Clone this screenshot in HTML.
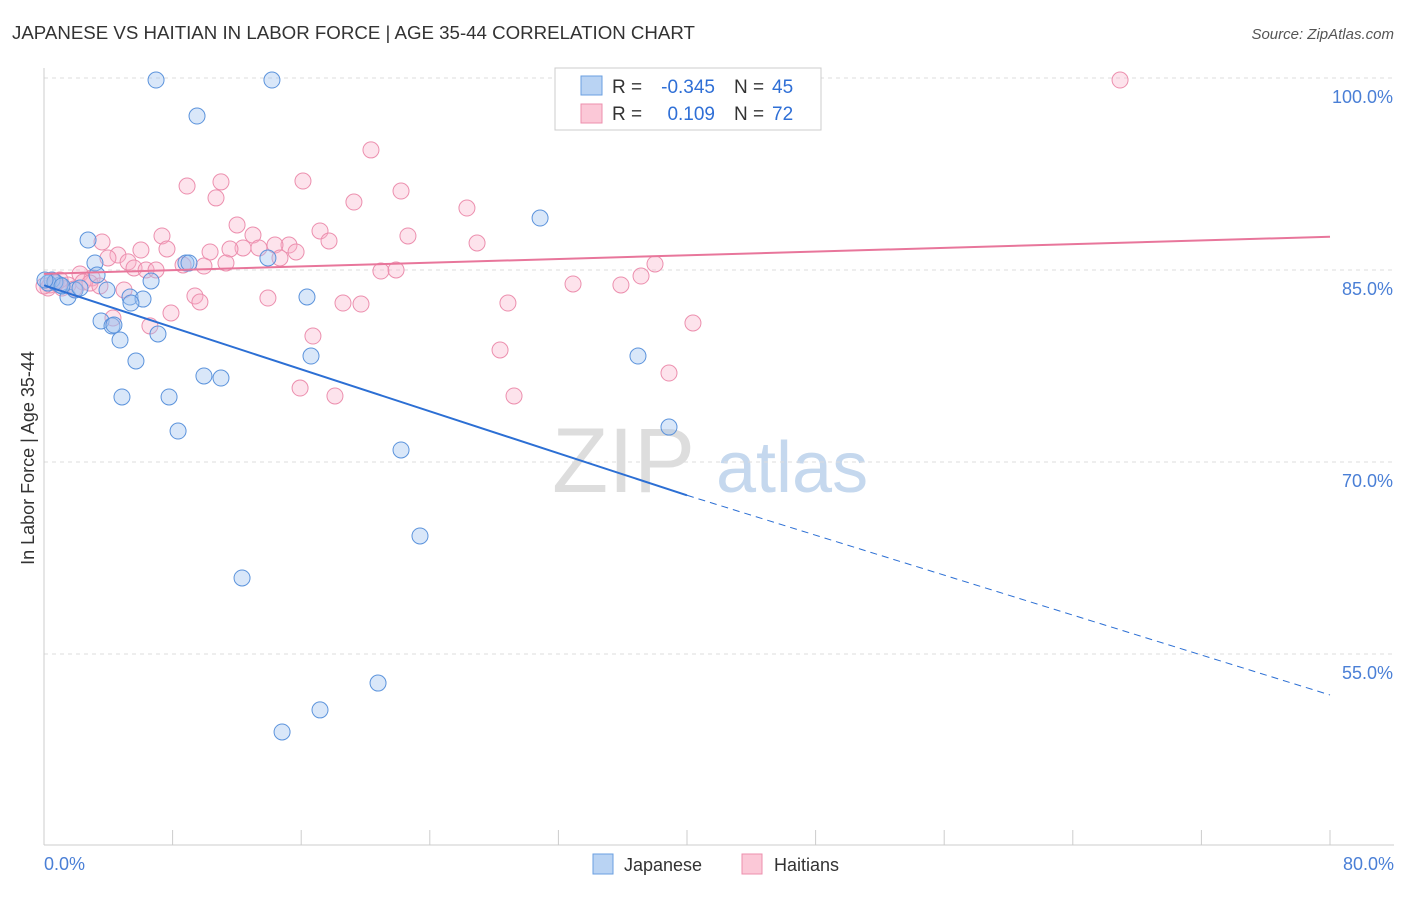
<!DOCTYPE html>
<html><head><meta charset="utf-8"><style>
body{margin:0;background:#fff;font-family:"Liberation Sans",sans-serif}
svg text{font-family:"Liberation Sans",sans-serif}
</style></head><body>
<svg id="chart" width="1406" height="892">
<text x="12" y="39" font-size="18.7" fill="#333">JAPANESE VS HAITIAN IN LABOR FORCE | AGE 35-44 CORRELATION CHART</text>
<text x="1394" y="39" font-size="15" fill="#555" font-style="italic" text-anchor="end">Source: ZipAtlas.com</text>
<text x="34" y="458" font-size="18" fill="#333" transform="rotate(-90 34 458)" text-anchor="middle">In Labor Force | Age 35-44</text>
<g><text x="552" y="492" font-size="92" fill="#ddd" font-family="Liberation Serif">ZIP</text><text x="716" y="492" font-size="72" fill="#c5d8ee">atlas</text></g>
<g id="grid"></g><g id="marks"></g>
<g>
<rect x="555" y="68" width="266" height="62" fill="#fff" stroke="#ccc"/>
<rect x="581" y="76" width="21" height="19" fill="#b9d3f3" stroke="#6a9fe0"/>
<rect x="581" y="104" width="21" height="19" fill="#fbc8d7" stroke="#ec8fae"/>
<text x="612" y="93" font-size="19" fill="#333">R =</text>
<text x="715" y="93" font-size="19" fill="#2f6fd6" text-anchor="end">-0.345</text>
<text x="734" y="93" font-size="19" fill="#333">N =</text>
<text x="772" y="93" font-size="19" fill="#2f6fd6">45</text>
<text x="612" y="120" font-size="19" fill="#333">R =</text>
<text x="715" y="120" font-size="19" fill="#2f6fd6" text-anchor="end">0.109</text>
<text x="734" y="120" font-size="19" fill="#333">N =</text>
<text x="772" y="120" font-size="19" fill="#2f6fd6">72</text>
</g>
<g>
<rect x="593" y="854" width="20" height="20" fill="#b9d3f3" stroke="#6a9fe0"/>
<text x="624" y="871" font-size="18" fill="#333">Japanese</text>
<rect x="742" y="854" width="20" height="20" fill="#fbc8d7" stroke="#ec8fae"/>
<text x="774" y="871" font-size="18" fill="#333">Haitians</text>
</g>
</svg>
<script>
const yTicks=[100,85,70,55];
const xTickCount=11;
const bluePx=[[156,80],[272,80],[197,116],[540,218],[88,240],[95,263],[97,275],[151,281],[186,263],[189,263],[107,290],[130,297],[143,299],[131,303],[68,297],[60,285],[75,290],[52,280],[48,283],[101,321],[112,326],[114,325],[120,340],[158,334],[136,361],[307,297],[268,258],[311,356],[204,376],[221,378],[122,397],[169,397],[178,431],[401,450],[420,536],[242,578],[378,683],[320,710],[282,732],[638,356],[669,427],[55,282],[62,286],[80,288],[45,280]];
const pinkPx=[[1120,80],[371,150],[303,181],[401,191],[187,186],[221,182],[216,198],[354,202],[467,208],[237,225],[320,231],[408,236],[253,235],[477,243],[102,242],[162,236],[329,241],[289,245],[275,245],[243,248],[259,248],[141,250],[167,249],[210,252],[296,252],[230,249],[118,255],[108,258],[128,262],[183,265],[226,263],[204,266],[280,258],[134,268],[146,270],[156,270],[381,271],[396,270],[655,264],[641,276],[573,284],[621,285],[80,274],[92,278],[68,285],[62,288],[50,285],[83,282],[124,290],[195,296],[200,302],[268,298],[343,303],[361,304],[508,303],[171,313],[150,326],[113,318],[693,323],[313,336],[500,350],[669,373],[300,388],[335,396],[514,396],[48,288],[56,283],[44,286],[74,289],[90,283],[60,280],[100,286]];
const japaneseX=bluePx.map(p=>+((p[0]-44)/1286*80).toFixed(2));
const japaneseY=bluePx.map(p=>+(100-(p[1]-78)/12.8).toFixed(2));
const haitianX=pinkPx.map(p=>+((p[0]-44)/1286*80).toFixed(2));
const haitianY=pinkPx.map(p=>+(100-(p[1]-78)/12.8).toFixed(2));
const blueTrend=[83.8,67.4,51.8];
const pinkTrend=[84.7,87.6];
const X=v=>44+v/80*1286, Y=v=>78+(100-v)*12.8;
const NS='http://www.w3.org/2000/svg';
function mk(tag,attrs,parent){const e=document.createElementNS(NS,tag);for(const k in attrs)e.setAttribute(k,attrs[k]);parent.appendChild(e);return e;}
const grid=document.getElementById('grid'), marks=document.getElementById('marks');
yTicks.forEach(t=>{
 const l=mk('line',{x1:44,x2:1394,y1:Y(t),y2:Y(t),stroke:'#ddd','stroke-dasharray':'4,4'},grid);
 
 
 const tx=mk('text',{x:1393,y:Y(t)+25,'font-size':18,fill:'#4a7fd6','text-anchor':'end'},grid);
 tx.textContent=t.toFixed(1)+'%';
 
 
});
const ax=mk('line',{x1:44,x2:44,y1:68,y2:845,stroke:'#ccc'},grid);


const bx=mk('line',{x1:44,x2:1394,y1:845,y2:845,stroke:'#ccc'},grid);


for(let i=0;i<xTickCount;i++){const xv=i*8;
 const t=mk('line',{x1:X(xv),x2:X(xv),y1:830,y2:845,stroke:'#ccc'},grid);
 
 }
const l0=mk('text',{x:44,y:870,'font-size':18,fill:'#4a7fd6'},grid);l0.textContent='0.0%';


const l1=mk('text',{x:1394,y:870,'font-size':18,fill:'#4a7fd6','text-anchor':'end'},grid);l1.textContent='80.0%';


haitianX.forEach((x,i)=>{const c=mk('circle',{cx:X(x),cy:Y(haitianY[i]),r:8,fill:'rgba(248,176,200,0.35)',stroke:'#ec8fae','stroke-width':1},marks);
 
 });
japaneseX.forEach((x,i)=>{const c=mk('circle',{cx:X(x),cy:Y(japaneseY[i]),r:8,fill:'rgba(160,196,240,0.4)',stroke:'#5b93dc','stroke-width':1},marks);
 
 });
const pt=mk('line',{x1:X(0),y1:Y(pinkTrend[0]),x2:X(80),y2:Y(pinkTrend[1]),stroke:'#e8769b','stroke-width':2},marks);


const bt=mk('line',{x1:X(0),y1:Y(blueTrend[0]),x2:X(40),y2:Y(blueTrend[1]),stroke:'#2c6fd4','stroke-width':2},marks);


const bd=mk('line',{x1:X(40),y1:Y(blueTrend[1]),x2:X(80),y2:Y(blueTrend[2]),stroke:'#2c6fd4','stroke-width':1,'stroke-dasharray':'7,5'},marks);


</script>
</body></html>
